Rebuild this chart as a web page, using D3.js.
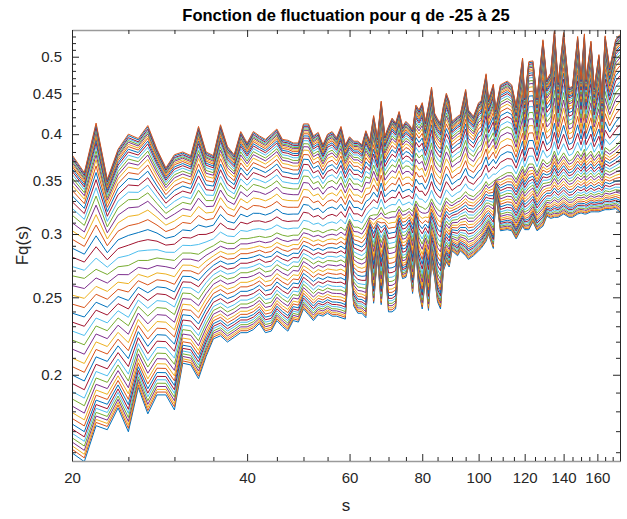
<!DOCTYPE html>
<html>
<head>
<meta charset="utf-8">
<script src="https://cdn.jsdelivr.net/npm/d3@7"></script>
<style>
  body { margin: 0; background: #fff; }
  text { font-family: "Liberation Sans", Arial, sans-serif; }
</style>
</head>
<body>
<script>
// scales s (x axis)
var sVals = [20, 21, 22, 23, 24, 25, 26, 27, 28, 29,
             30, 31, 32, 33, 34, 35, 36, 37, 38, 39,
             40, 41, 42, 43, 44, 45, 46, 47, 48, 49,
             50, 51, 52, 53, 54, 55, 56, 57, 58, 59,
             60, 61, 62, 63, 64, 65, 66, 67, 68, 69,
             70, 71, 72, 73, 74, 75, 76, 77, 78, 79,
             80, 81, 82, 83, 84, 85, 86, 87, 88, 89,
             90, 92, 93, 95, 96, 98, 100, 101, 103, 104,
             106, 107, 109, 112, 114, 116, 119, 120, 122, 124,
             126, 129, 131, 133, 135, 137, 140, 143, 145, 148,
             150, 152, 153, 156, 158, 161, 163, 165, 168, 172, 175];

// Fq(s) for q = 25 (top curve)
var topVals = [0.377, 0.358, 0.413, 0.351, 0.383, 0.400, 0.395, 0.410, 0.383, 0.363,
               0.377, 0.380, 0.376, 0.409, 0.380, 0.376, 0.411, 0.386, 0.377, 0.403,
               0.390, 0.403, 0.398, 0.394, 0.400, 0.406, 0.394, 0.393, 0.390, 0.390,
               0.412, 0.412, 0.398, 0.402, 0.388, 0.400, 0.403, 0.396, 0.409, 0.388,
               0.397, 0.392, 0.392, 0.388, 0.404, 0.392, 0.422, 0.396, 0.440, 0.398,
               0.409, 0.419, 0.413, 0.427, 0.409, 0.415, 0.411, 0.405, 0.435, 0.429,
               0.438, 0.415, 0.434, 0.458, 0.425, 0.418, 0.413, 0.434, 0.450, 0.440,
               0.415, 0.421, 0.423, 0.455, 0.429, 0.421, 0.438, 0.440, 0.476, 0.442,
               0.462, 0.429, 0.461, 0.466, 0.461, 0.434, 0.498, 0.444, 0.493, 0.494,
               0.444, 0.525, 0.468, 0.477, 0.540, 0.464, 0.536, 0.457, 0.459, 0.530,
               0.468, 0.534, 0.468, 0.523, 0.457, 0.503, 0.444, 0.531, 0.484, 0.525, 0.533];

// Fq(s) for q = 0 (middle curve)
var midVals = [0.266, 0.264, 0.271, 0.267, 0.273, 0.274, 0.278, 0.278, 0.280, 0.279,
               0.278, 0.284, 0.284, 0.283, 0.287, 0.290, 0.294, 0.292, 0.292, 0.296,
               0.296, 0.297, 0.298, 0.297, 0.298, 0.301, 0.299, 0.298, 0.299, 0.299,
               0.305, 0.304, 0.302, 0.303, 0.301, 0.303, 0.304, 0.303, 0.306, 0.303,
               0.313, 0.306, 0.306, 0.304, 0.310, 0.316, 0.317, 0.317, 0.324, 0.317,
               0.319, 0.320, 0.320, 0.325, 0.320, 0.321, 0.323, 0.320, 0.330, 0.325,
               0.324, 0.322, 0.325, 0.332, 0.326, 0.322, 0.320, 0.327, 0.333, 0.330,
               0.328, 0.332, 0.333, 0.339, 0.336, 0.334, 0.339, 0.341, 0.349, 0.345,
               0.349, 0.351, 0.354, 0.358, 0.358, 0.351, 0.365, 0.358, 0.367, 0.367,
               0.358, 0.372, 0.367, 0.370, 0.381, 0.370, 0.379, 0.370, 0.372, 0.381,
               0.375, 0.383, 0.375, 0.381, 0.374, 0.381, 0.372, 0.385, 0.381, 0.386, 0.392];

// Fq(s) for q = -25 (bottom curve)
var botVals = [0.160, 0.156, 0.173, 0.171, 0.182, 0.170, 0.193, 0.179, 0.189, 0.189,
               0.181, 0.207, 0.206, 0.198, 0.211, 0.222, 0.224, 0.220, 0.223, 0.226,
               0.226, 0.228, 0.232, 0.226, 0.227, 0.234, 0.230, 0.227, 0.234, 0.233,
               0.242, 0.238, 0.234, 0.238, 0.237, 0.239, 0.237, 0.237, 0.236, 0.235,
               0.286, 0.244, 0.239, 0.239, 0.236, 0.286, 0.246, 0.282, 0.245, 0.276,
               0.240, 0.240, 0.242, 0.277, 0.264, 0.265, 0.276, 0.253, 0.286, 0.254,
               0.242, 0.264, 0.241, 0.276, 0.265, 0.247, 0.242, 0.270, 0.277, 0.273,
               0.286, 0.282, 0.286, 0.282, 0.279, 0.282, 0.286, 0.288, 0.294, 0.300,
               0.288, 0.339, 0.303, 0.304, 0.303, 0.296, 0.307, 0.304, 0.304, 0.311,
               0.303, 0.307, 0.316, 0.314, 0.315, 0.315, 0.318, 0.315, 0.315, 0.318,
               0.319, 0.318, 0.318, 0.320, 0.320, 0.320, 0.321, 0.322, 0.322, 0.323, 0.320];

// q values and Fq(20) read at the left edge for each q
var qVals = [-25, -24, -23, -22, -21, -20, -19, -18, -17, -16, -15, -14, -13, -12, -11, -10, -9,
             -8, -7, -6, -5, -4, -3, -2, -1, 0, 1, 2, 3, 4, 5, 6, 7, 8,
             9, 10, 11, 12, 13, 14, 15, 16, 17, 18, 19, 20, 21, 22, 23, 24, 25];
var startVals = [0.1597, 0.1614, 0.1630, 0.1648, 0.1668, 0.1690, 0.1711, 0.1736, 0.1764, 0.1794,
                 0.1828, 0.1866, 0.1906, 0.1951, 0.1999, 0.2048, 0.2099, 0.2154, 0.2211, 0.2269,
                 0.2328, 0.2389, 0.2452, 0.2516, 0.2586, 0.2660, 0.2732, 0.2807, 0.2881, 0.2956,
                 0.3030, 0.3100, 0.3168, 0.3232, 0.3294, 0.3351, 0.3404, 0.3454, 0.3494, 0.3529,
                 0.3565, 0.3596, 0.3622, 0.3648, 0.3669, 0.3690, 0.3706, 0.3722, 0.3735, 0.3755, 0.3770];

var xTickVals = [20, 40, 60, 80, 100, 120, 140, 160];
var yTickVals = [0.2, 0.25, 0.3, 0.35, 0.4, 0.45, 0.5];
var colors = ["#0072BD", "#D95319", "#EDB120", "#7E2F8E", "#77AC30", "#4DBEEE", "#A2142F"];

var width = 627, height = 519;
var plotL = 72, plotR = 620, plotT = 30, plotB = 461;

var svg = d3.select("body").append("svg")
    .attr("width", width)
    .attr("height", height);

var x = d3.scaleLog().domain([20, 175]).range([plotL, plotR]);
var y = d3.scaleLog().domain([0.156, 0.54]).range([plotB, plotT]);

svg.append("clipPath").attr("id", "plotclip")
  .append("rect")
    .attr("x", plotL).attr("y", plotT)
    .attr("width", plotR - plotL).attr("height", plotB - plotT);

// build each q curve from the three read curves
function curveFor(i) {
    var sv = startVals[i];
    var b0 = botVals[0], m0 = midVals[0], t0 = topVals[0];
    var pts = [];
    if (sv <= m0) {
        var g = Math.log(sv / b0) / Math.log(m0 / b0);
        for (var j = 0; j < sVals.length; j++) {
            var lo = Math.log(botVals[j]), hi = Math.log(midVals[j]);
            pts.push({s: sVals[j], f: Math.exp(lo + g * (hi - lo))});
        }
    } else {
        var g2 = Math.log(sv / m0) / Math.log(t0 / m0);
        for (var k = 0; k < sVals.length; k++) {
            var lo2 = Math.log(midVals[k]), hi2 = Math.log(topVals[k]);
            pts.push({s: sVals[k], f: Math.exp(lo2 + g2 * (hi2 - lo2))});
        }
    }
    return pts;
}

var line = d3.line()
    .x(function(d) { return x(d.s); })
    .y(function(d) { return y(d.f); });

var lines = svg.append("g").attr("clip-path", "url(#plotclip)");
for (var i = 0; i < qVals.length; i++) {
    lines.append("path")
        .datum(curveFor(i))
        .attr("d", line)
        .attr("fill", "none")
        .attr("stroke", colors[i % colors.length])
        .attr("stroke-width", 1);
}

// axes (MATLAB style: ticks inside, box on)
var xMinor = [25, 30, 35, 45, 50, 55, 65, 70, 75, 85, 90, 95, 105, 110, 115, 125, 130, 135, 145, 150, 155, 165, 170, 175];
var yMinor = d3.range(16, 54).map(function(d) { return d / 100; })
    .filter(function(d) { return yTickVals.indexOf(d) === -1; });

function styleAxis(g) {
    g.selectAll("line").attr("stroke", "#262626");
    g.selectAll("text").attr("fill", "#262626").style("font-size", "15px");
}

var gxB = svg.append("g").attr("transform", "translate(0," + plotB + ")")
    .call(d3.axisBottom(x).tickValues(xTickVals).tickFormat(d3.format("d"))
        .tickSizeInner(-7).tickSizeOuter(0).tickPadding(11));
var gxBm = svg.append("g").attr("transform", "translate(0," + plotB + ")")
    .call(d3.axisBottom(x).tickValues(xMinor).tickFormat("").tickSizeInner(-4).tickSizeOuter(0));
var gxT = svg.append("g").attr("transform", "translate(0," + plotT + ")")
    .call(d3.axisTop(x).tickValues(xTickVals).tickFormat("").tickSizeInner(-7).tickSizeOuter(0));
var gxTm = svg.append("g").attr("transform", "translate(0," + plotT + ")")
    .call(d3.axisTop(x).tickValues(xMinor).tickFormat("").tickSizeInner(-4).tickSizeOuter(0));

var gyL = svg.append("g").attr("transform", "translate(" + plotL + ",0)")
    .call(d3.axisLeft(y).tickValues(yTickVals).tickFormat(function(d) { return String(d); })
        .tickSizeInner(-7).tickSizeOuter(0).tickPadding(10));
var gyLm = svg.append("g").attr("transform", "translate(" + plotL + ",0)")
    .call(d3.axisLeft(y).tickValues(yMinor).tickFormat("").tickSizeInner(-4).tickSizeOuter(0));
var gyR = svg.append("g").attr("transform", "translate(" + plotR + ",0)")
    .call(d3.axisRight(y).tickValues(yTickVals).tickFormat("").tickSizeInner(-7).tickSizeOuter(0));
var gyRm = svg.append("g").attr("transform", "translate(" + plotR + ",0)")
    .call(d3.axisRight(y).tickValues(yMinor).tickFormat("").tickSizeInner(-4).tickSizeOuter(0));

[gxB, gxBm, gxT, gxTm, gyL, gyLm, gyR, gyRm].forEach(styleAxis);
[gxBm, gxTm, gyLm, gyRm].forEach(function(g) { g.select(".domain").remove(); });
[gxB, gxT].forEach(function(g) {
    g.select(".domain").attr("stroke", "#9a9a9a").attr("stroke-width", 1.6);
});
[gyL, gyR].forEach(function(g) {
    g.select(".domain").attr("stroke", "#262626").attr("stroke-width", 1);
});

// labels
svg.append("text")
    .attr("x", (plotL + plotR) / 2).attr("y", 21)
    .attr("text-anchor", "middle")
    .style("font-size", "16.5px").style("font-weight", "bold")
    .attr("fill", "#000")
    .text("Fonction de fluctuation pour q de -25 à 25");

svg.append("text")
    .attr("x", (plotL + plotR) / 2).attr("y", 511)
    .attr("text-anchor", "middle")
    .style("font-size", "17px")
    .attr("fill", "#262626")
    .text("s");

svg.append("text")
    .attr("transform", "translate(28," + ((plotT + plotB) / 2) + ") rotate(-90)")
    .attr("text-anchor", "middle")
    .style("font-size", "17px")
    .attr("fill", "#262626")
    .text("Fq(s)");
</script>
</body>
</html>
